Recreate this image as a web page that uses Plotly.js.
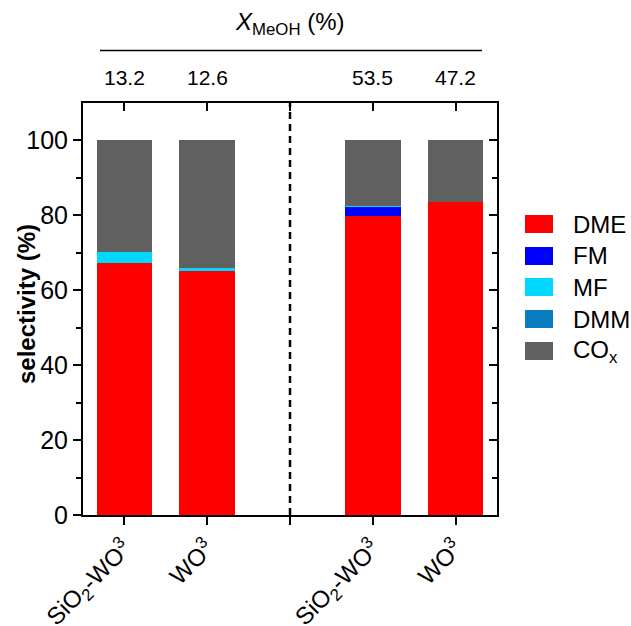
<!DOCTYPE html>
<html>
<head>
<meta charset="utf-8">
<script src="https://cdn.plot.ly/plotly-3.0.1.min.js"></script>
<style>html,body{margin:0;padding:0;background:#fff;}#chart{width:631px;height:626px;}</style>
</head>
<body>
<div id="chart"></div>
<script>
// Data
const xPositions = [0, 1, 3, 4];
const tickPositions = [0, 1, 2, 3, 4];
const tickLabels = ['SiO<sub>2</sub>-WO<sup>3</sup>', 'WO<sup>3</sup>', '', 'SiO<sub>2</sub>-WO<sup>3</sup>', 'WO<sup>3</sup>'];
const conversion = ['13.2', '12.6', '53.5', '47.2'];
const seriesNames = ['DME', 'FM', 'MF', 'DMM', 'CO<sub>x</sub>'];
const DME = [67.3, 65.1, 79.7, 83.5];
const FM  = [0.0, 0.0, 2.5, 0.0];
const MF  = [2.8, 0.9, 0.3, 0.2];
const DMM = [0.0, 0.0, 0.0, 0.0];
const COx = [29.9, 34.0, 17.5, 16.3];
const seriesColors = ['#ff0000', '#0000ff', '#00d8ff', '#0a7cc0', '#606060'];
const yTicks = [0, 20, 40, 60, 80, 100];
const yMinorTicks = [10, 30, 50, 70, 90];

const seriesValues = [DME, FM, MF, DMM, COx];
const traces = seriesValues.map((vals, i) => ({
  type: 'bar',
  x: xPositions,
  y: vals,
  name: seriesNames[i],
  width: 0.67,
  marker: {color: seriesColors[i], line: {width: 0}},
  hoverinfo: 'skip',
  showlegend: false
}));
// invisible trace to anchor mirrored axes (top / right, inward ticks)
traces.push({
  type: 'scatter', x: [2], y: [0], xaxis: 'x2', yaxis: 'y2',
  mode: 'markers', marker: {opacity: 0}, showlegend: false, hoverinfo: 'skip'
});

const font = {family: 'Liberation Sans, Arial, sans-serif', color: '#000'};
const F = (s) => Object.assign({size: s}, font);

// plot area in pixels: left 83, right 497, top 103, bottom 515
const PL = 83, PW = 414, PB = 515, PH = 412;
const px = (x) => (x - PL) / PW;
const py = (y) => (PB - y) / PH;

const annotations = xPositions.map((xp, i) => ({
  x: xp, xref: 'x', y: py(77), yref: 'paper', text: conversion[i],
  showarrow: false, font: F(21), xanchor: 'center', yanchor: 'middle'
}));
annotations.push({
  x: 2, xref: 'x', y: py(24), yref: 'paper',
  text: '<i>X</i><sub>MeOH</sub> (%)', showarrow: false,
  font: F(24), xanchor: 'center', yanchor: 'middle'
});
annotations.push({
  x: px(26), xref: 'paper', y: py(304), yref: 'paper',
  text: '<b>selectivity (%)</b>', textangle: -90, showarrow: false,
  font: F(24), xanchor: 'center', yanchor: 'middle'
});

const shapes = [
  {type: 'line', xref: 'x', yref: 'y', x0: 2, x1: 2, y0: 0, y1: 110,
   line: {color: '#000', width: 2.5, dash: '7px,5px'}},
  {type: 'line', xref: 'paper', yref: 'paper', x0: px(100), x1: px(482), y0: py(50.5), y1: py(50.5),
   line: {color: '#000', width: 1.5}}
];

// custom legend (large rectangular swatches as in the reference)
const legendCenters = [224, 256, 287, 319, 351];
seriesNames.forEach((nm, i) => {
  const yc = legendCenters[i];
  shapes.push({type: 'rect', xref: 'paper', yref: 'paper',
    x0: px(525), x1: px(553), y0: py(yc + 9), y1: py(yc - 9),
    fillcolor: seriesColors[i], line: {width: 0}});
  annotations.push({x: px(571), xref: 'paper', y: py(yc), yref: 'paper',
    text: nm, showarrow: false, font: F(24), xanchor: 'left', yanchor: 'middle'});
});

const layout = {
  width: 631, height: 626,
  margin: {l: 83, r: 134, t: 103, b: 111},
  paper_bgcolor: '#fff', plot_bgcolor: '#fff',
  barmode: 'stack',
  font: F(24),
  showlegend: false,
  xaxis: {
    range: [-0.5, 4.5], tickmode: 'array', tickvals: tickPositions, ticktext: tickLabels,
    tickangle: -45, ticks: 'outside', ticklen: 8, tickwidth: 2, tickcolor: '#000',
    showline: true, linecolor: '#000', linewidth: 2, showgrid: false, zeroline: false,
    tickfont: F(24), fixedrange: true, automargin: false
  },
  yaxis: {
    range: [0, 110], tickmode: 'array', tickvals: yTicks,
    ticks: 'outside', ticklen: 8, tickwidth: 2, tickcolor: '#000',
    minor: {tickvals: yMinorTicks, ticks: 'outside', ticklen: 5, tickwidth: 2, tickcolor: '#000'},
    showline: true, linecolor: '#000', linewidth: 2, showgrid: false, zeroline: false,
    tickfont: F(25), fixedrange: true, automargin: false
  },
  xaxis2: {
    overlaying: 'x', side: 'top', range: [-0.5, 4.5], tickmode: 'array', tickvals: tickPositions,
    showticklabels: false, ticks: 'inside', ticklen: 8, tickwidth: 2, tickcolor: '#000',
    showline: true, linecolor: '#000', linewidth: 2, showgrid: false, zeroline: false
  },
  yaxis2: {
    overlaying: 'y', side: 'right', range: [0, 110], tickmode: 'array', tickvals: yTicks,
    minor: {tickvals: yMinorTicks, ticks: 'inside', ticklen: 5, tickwidth: 2, tickcolor: '#000'},
    showticklabels: false, ticks: 'inside', ticklen: 8, tickwidth: 2, tickcolor: '#000',
    showline: true, linecolor: '#000', linewidth: 2, showgrid: false, zeroline: false
  },
  shapes: shapes,
  annotations: annotations
};

Plotly.newPlot('chart', traces, layout, {displayModeBar: false, staticPlot: true});
</script>
</body>
</html>
